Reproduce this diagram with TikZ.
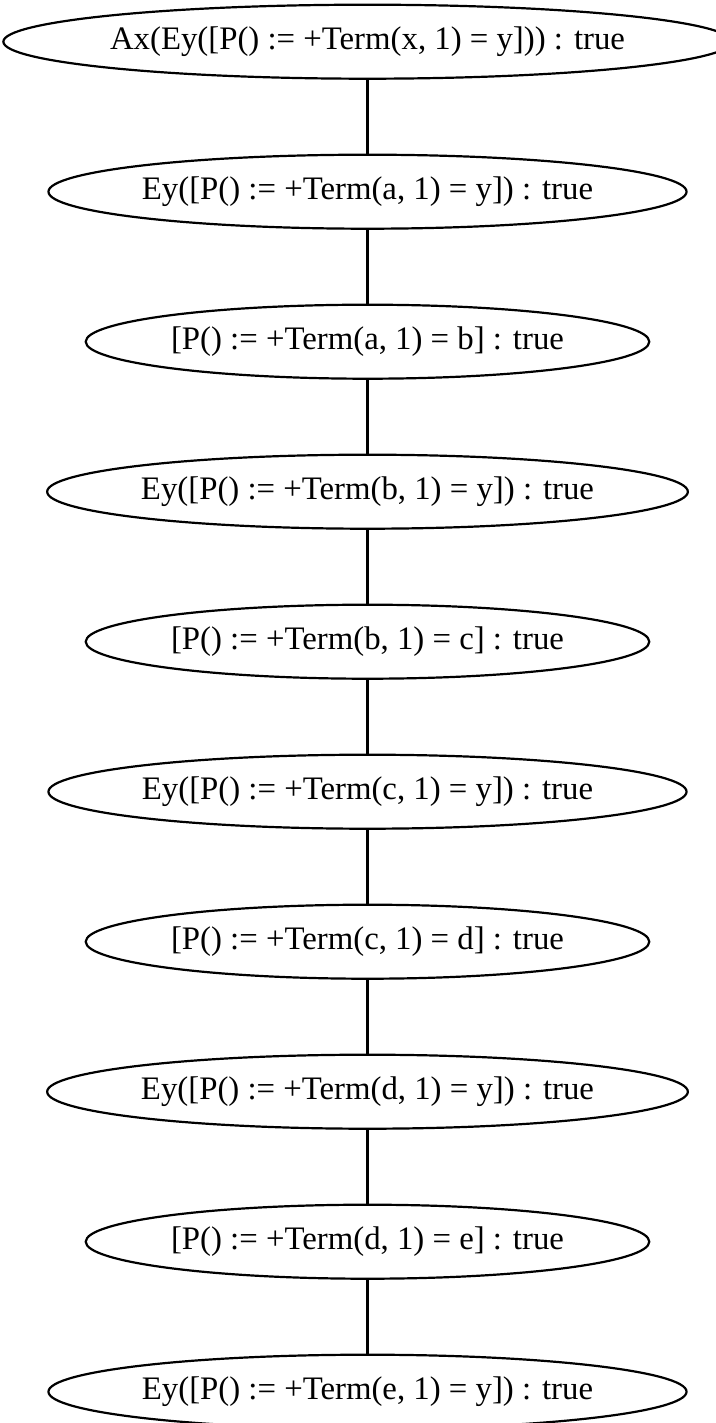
\documentclass[tikz,border=0pt]{standalone}
\usepackage{fontspec}
\setmainfont{Liberation Serif}
\usetikzlibrary{shapes.geometric}
\begin{document}
\begin{tikzpicture}[x=0.5pt,y=-0.5pt,
  state/.style={draw, ellipse, line width=1.1pt, inner sep=0pt,
    minimum height=37pt, font=\fontsize{16.4pt}{19pt}\selectfont},
  wide/.style={state, minimum width=358.5pt},
  quant/.style={state, minimum width=317.5pt},
  assign/.style={state, minimum width=281.8pt},
  link/.style={line width=1.1pt}]
\useasboundingbox (0,0) rectangle (716,1423);
\node[wide]   (n0) at (367.5,41.7)   {Ax(Ey([P() := +Term(x, 1) = y])) : true};
\node[quant]  (n1) at (367.5,191.7)  {Ey([P() := +Term(a, 1) = y]) : true};
\node[assign] (n2) at (367.5,341.7)  {[P() := +Term(a, 1) = b] : true};
\node[quant]  (n3) at (367.5,491.7)  {Ey([P() := +Term(b, 1) = y]) : true};
\node[assign] (n4) at (367.5,641.7)  {[P() := +Term(b, 1) = c] : true};
\node[quant]  (n5) at (367.5,791.7)  {Ey([P() := +Term(c, 1) = y]) : true};
\node[assign] (n6) at (367.5,941.7)  {[P() := +Term(c, 1) = d] : true};
\node[quant]  (n7) at (367.5,1091.7) {Ey([P() := +Term(d, 1) = y]) : true};
\node[assign] (n8) at (367.5,1241.7) {[P() := +Term(d, 1) = e] : true};
\node[quant]  (n9) at (367.5,1391.7) {Ey([P() := +Term(e, 1) = y]) : true};
\foreach \a/\b in {n0/n1,n1/n2,n2/n3,n3/n4,n4/n5,n5/n6,n6/n7,n7/n8,n8/n9}
  \draw[link] (\a) -- (\b);
\end{tikzpicture}
\end{document}
